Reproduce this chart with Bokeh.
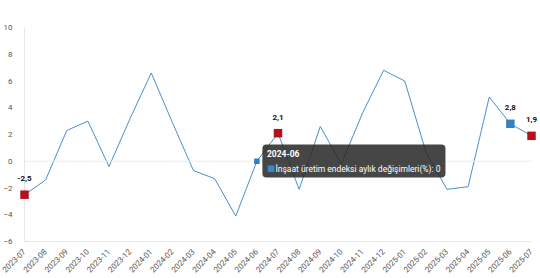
from bokeh.plotting import figure
from bokeh.models import ColumnDataSource, Range1d, FixedTicker, Span, Label
from bokeh.embed import file_html
from bokeh.resources import INLINE
from bokeh.core.properties import value
import math

months = ["2023-07", "2023-08", "2023-09", "2023-10", "2023-11", "2023-12",
          "2024-01", "2024-02", "2024-03", "2024-04", "2024-05", "2024-06",
          "2024-07", "2024-08", "2024-09", "2024-10", "2024-11", "2024-12",
          "2025-01", "2025-02", "2025-03", "2025-04", "2025-05", "2025-06",
          "2025-07"]
values = [-2.5, -1.4, 2.3, 3.0, -0.4, 3.2, 6.6, 2.9, -0.7, -1.3, -4.1, 0.0,
          2.1, -2.1, 2.6, -0.2, 3.6, 6.8, 6.0, 0.7, -2.1, -1.9, 4.8, 2.8, 1.9]
red_months = ["2023-07", "2024-07", "2025-07"]
blue_months = ["2025-06"]
hover_month = "2024-06"
series_name = "İnşaat üretim endeksi aylık değişimleri(%)"
y_ticks = [-6, -4, -2, 0, 2, 4, 6, 8, 10]

FONT = "Roboto"
LINE_C = "#4a8fce"
RED_C = "#b3121c"
BLUE_C = "#387fc0"

xs = list(range(len(months)))

def fmt(v):
    return ("%.1f" % v).replace(".", ",")

p = figure(width=540, height=278, output_backend="svg", toolbar_location=None,
           x_range=Range1d(0, len(months) - 1), y_range=Range1d(-6, 10),
           min_border_left=22, min_border_right=9, min_border_top=27,
           min_border_bottom=37)
p.outline_line_color = None
p.background_fill_color = "white"
p.border_fill_color = "white"
p.xgrid.visible = False
p.ygrid.visible = False

# axes
p.yaxis.ticker = FixedTicker(ticks=y_ticks)
p.yaxis.major_tick_line_color = None
p.yaxis.minor_tick_line_color = None
p.yaxis.axis_line_color = "#e6e6e6"
p.yaxis.major_label_text_font = FONT
p.yaxis.major_label_text_font_size = "8px"
p.yaxis.major_label_text_color = "#555555"
p.yaxis.major_label_standoff = 6

p.xaxis.ticker = FixedTicker(ticks=xs)
p.xaxis.major_label_overrides = {i: m for i, m in enumerate(months)}
p.xaxis.major_label_orientation = math.pi / 4
p.xaxis.major_tick_line_color = None
p.xaxis.minor_tick_line_color = None
p.xaxis.axis_line_color = "#e6e6e6"
p.xaxis.major_label_text_font = FONT
p.xaxis.major_label_text_font_size = "8px"
p.xaxis.major_label_text_color = "#555555"
p.xaxis.major_label_standoff = 3

p.add_layout(Span(location=0, dimension="width", line_color="#ebebeb", line_width=1))

src = ColumnDataSource(dict(x=xs, y=values, m=months))
p.line("x", "y", source=src, line_color=LINE_C, line_width=1)

def subset(sel):
    idx = [i for i, m in enumerate(months) if m in sel]
    return ColumnDataSource(dict(x=idx, y=[values[i] for i in idx],
                                 t=[fmt(values[i]) for i in idx]))

red_src = subset(red_months)
blue_src = subset(blue_months)
r1 = p.scatter("x", "y", source=red_src, marker="square", size=8.5,
               fill_color=RED_C, line_color=None)
r2 = p.scatter("x", "y", source=blue_src, marker="square", size=8.5,
               fill_color=BLUE_C, line_color=None)
r1.level = "overlay"
r2.level = "overlay"

hi = months.index(hover_month)
hsrc = ColumnDataSource(dict(x=[hi], y=[values[hi]]))
r3 = p.scatter("x", "y", source=hsrc, marker="square", size=5.5,
               fill_color="#2f7fd0", line_color=None)
r3.level = "overlay"

lab_src = subset(red_months + blue_months)
rt = p.text(x="x", y="y", text="t", source=lab_src, y_offset=-16,
            text_align="center", text_baseline="middle",
            text_font=value(FONT), text_font_size="8px",
            text_font_style="bold", text_color="#111111")
rt.level = "overlay"

# tooltip (anchored at the hovered point)
hx, hy = hi, values[hi]
box = Label(x=hx, y=hy, x_offset=5.5, y_offset=16.7,
            text=series_name + ": " + ("%g" % values[hi]),
            text_font=FONT, text_font_size="8.5px", text_color="white",
            text_align="left", text_baseline="top",
            background_fill_color="#262626", background_fill_alpha=0.85,
            padding=dict(left=13, right=5, top=19, bottom=4),
            border_radius=4)
box.level = "overlay"
p.add_layout(box)
h1 = Label(x=hx, y=hy, x_offset=10, y_offset=7.7, text=hover_month,
           text_font=FONT, text_font_size="8.5px", text_font_style="bold",
           text_color="white", text_align="left", text_baseline="middle")
h1.level = "overlay"
p.add_layout(h1)
sq = Label(x=hx, y=hy, x_offset=10, y_offset=-7, text="■",
           text_font="DejaVu Sans", text_font_size="8.5px", text_color="#3a86d0",
           text_align="left", text_baseline="middle")
sq.level = "overlay"
p.add_layout(sq)

open("out.html", "w").write(file_html(p, INLINE))
